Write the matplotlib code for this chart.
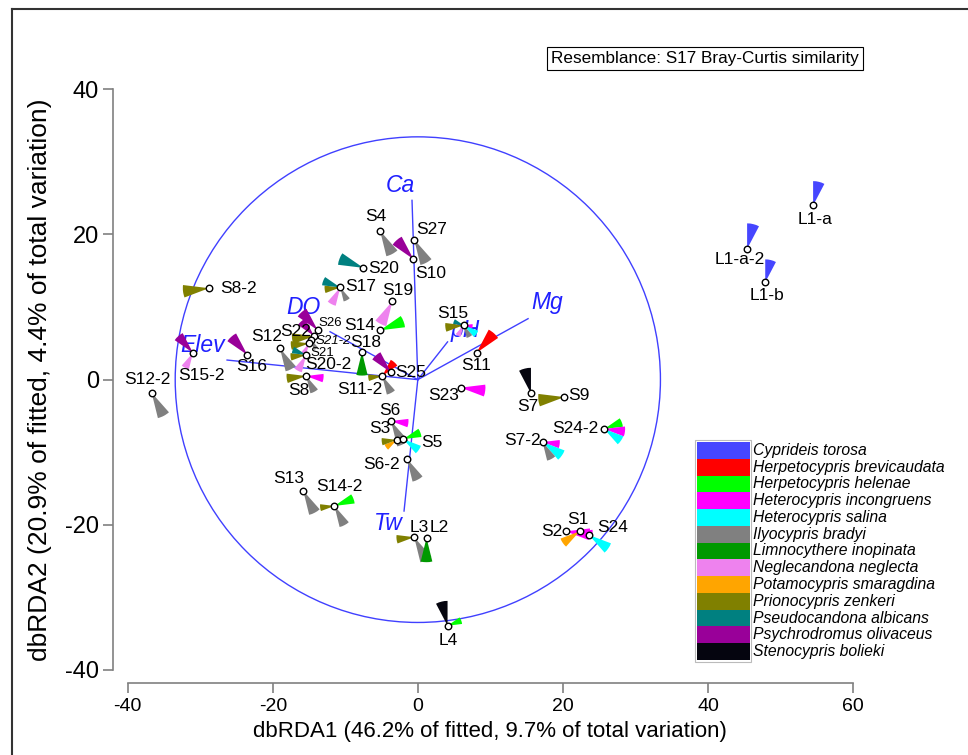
import matplotlib
matplotlib.use("Agg")
import matplotlib.pyplot as plt
from matplotlib.patches import Wedge, Circle, Rectangle
from matplotlib.lines import Line2D

plt.rcParams['font.family'] = ['Liberation Sans', 'DejaVu Sans']
plt.rcParams['axes.unicode_minus'] = False

# species (legend order = glyph sector order, clockwise from 12 o'clock)
species = ['Cyprideis torosa', 'Herpetocypris brevicaudata', 'Herpetocypris helenae',
           'Heterocypris incongruens', 'Heterocypris salina', 'Ilyocypris bradyi',
           'Limnocythere inopinata', 'Neglecandona neglecta', 'Potamocypris smaragdina',
           'Prionocypris zenkeri', 'Pseudocandona albicans', 'Psychrodromus olivaceus',
           'Stenocypris bolieki']
sp_colors = ['#4646ff', '#ff0000', '#00ff00', '#ff00ff', '#00ffff', '#808080',
             '#009900', '#ee82ee', '#ffa500', '#808000', '#008080', '#990099',
             '#05050f']

samples = ['L1-a', 'L1-a-2', 'L1-b', 'S8-2', 'S4', 'S27', 'S10', 'S20', 'S17', 'S19',
           'S14', 'S26', 'S22', 'S21-2', 'S21', 'S20-2', 'S12', 'S16', 'S15-2', 'S12-2',
           'S8', 'S18', 'S11-2', 'S25', 'S15', 'S11', 'S23', 'S7', 'S9', 'S24-2',
           'S7-2', 'S2', 'S1', 'S24', 'S6', 'S3', 'S5', 'S6-2', 'S13', 'S14-2',
           'L3', 'L2', 'L4']
db1 = [54.5, 45.4, 47.9, -28.8, -5.2, -0.5, -0.6, -7.5, -10.7, -3.5,
       -5.2, -13.8, -14.3, -14.7, -15.0, -15.4, -19.0, -23.5, -31.0, -36.7,
       -15.4, -7.7, -4.9, -3.7, 6.3, 8.1, 5.9, 15.6, 20.2, 25.7,
       17.2, 20.4, 22.3, 23.6, -3.7, -2.9, -2.0, -1.5, -15.8, -11.5,
       -0.5, 1.2, 4.1]
db2 = [24.0, 18.0, 13.4, 12.6, 20.5, 19.3, 16.6, 15.4, 12.7, 10.8,
       6.8, 6.8, 6.0, 5.5, 5.0, 3.4, 4.3, 3.4, 3.7, -1.8,
       0.5, 3.8, 0.5, 1.0, 7.5, 3.7, -1.1, -1.9, -2.4, -6.8,
       -8.6, -20.9, -20.9, -21.4, -5.7, -8.3, -8.2, -10.9, -15.3, -17.4,
       -21.7, -21.8, -33.9]

# relative glyph length per species (13 columns, same order as species)
glyph = [
    [0.93, 0, 0, 0, 0, 0, 0, 0, 0, 0, 0, 0, 0],        # L1-a
    [0.98, 0, 0, 0, 0, 0, 0, 0, 0, 0, 0, 0, 0],        # L1-a-2
    [0.88, 0, 0, 0, 0, 0, 0, 0, 0, 0, 0, 0, 0],        # L1-b
    [0, 0, 0, 0, 0, 0, 0, 0, 0, 1.0, 0, 0, 0],         # S8-2
    [0, 0, 0, 0, 0, 1.0, 0, 0, 0, 0, 0, 0, 0],         # S4
    [0, 0, 0, 0, 0, 1.0, 0, 0, 0, 0, 0, 0, 0],         # S27
    [0, 0, 0, 0, 0, 0, 0, 0, 0, 0, 0, 0.97, 0],        # S10
    [0, 0, 0, 0, 0, 0, 0, 0, 0, 0, 0.98, 0, 0],        # S20
    [0, 0, 0, 0, 0, 0.55, 0, 0.72, 0, 0.6, 0.7, 0, 0],  # S17
    [0, 0, 0, 0, 0, 0, 0, 0.98, 0, 0, 0, 0, 0],        # S19
    [0, 0, 0.96, 0, 0, 0, 0, 0, 0, 0, 0, 0, 0],        # S14
    [0, 0, 0, 0, 0, 0, 0, 0, 0, 0, 0, 0.93, 0],        # S26
    [0, 0, 0, 0, 0, 0, 0, 0, 0, 0.85, 0, 0.75, 0],     # S22
    [0, 0, 0, 0, 0, 0.4, 0, 0, 0, 0, 0, 0, 0],         # S21-2
    [0, 0, 0, 0, 0, 0, 0, 0.45, 0, 0.7, 0, 0, 0],      # S21
    [0, 0, 0, 0, 0, 0, 0, 0.68, 0, 0.6, 0.55, 0, 0],   # S20-2
    [0, 0, 0, 0, 0, 0.9, 0, 0, 0, 0, 0, 0, 0],         # S12
    [0, 0, 0, 0, 0, 0, 0, 0, 0, 0, 0, 0.93, 0],        # S16
    [0, 0, 0, 0, 0, 0, 0, 0.65, 0, 0, 0, 0.85, 0],     # S15-2
    [0, 0, 0, 0, 0, 1.0, 0, 0, 0, 0, 0, 0, 0],         # S12-2
    [0, 0, 0, 0.67, 0, 0.68, 0, 0, 0, 0.75, 0, 0, 0],  # S8
    [0, 0, 0, 0, 0, 0, 0.9, 0, 0, 0, 0, 0, 0],         # S18
    [0, 0.7, 0, 0, 0, 0.73, 0, 0, 0, 0.54, 0, 0, 0],   # S11-2
    [0, 0, 0, 0, 0, 0, 0, 0, 0, 0, 0, 0.87, 0],        # S25
    [0, 0, 0, 0.35, 0.6, 0.5, 0, 0.45, 0, 0.7, 0.4, 0, 0],  # S15
    [0, 1.0, 0, 0, 0, 0, 0, 0, 0, 0, 0, 0, 0],         # S11
    [0, 0, 0, 0.95, 0, 0, 0, 0, 0, 0, 0, 0, 0],        # S23
    [0, 0, 0, 0, 0, 0, 0, 0, 0, 0, 0, 0, 0.98],        # S7
    [0, 0, 0, 0, 0, 0, 0, 0, 0, 1.0, 0, 0, 0],         # S9
    [0, 0, 0.72, 0.8, 0.78, 0, 0, 0, 0, 0, 0, 0, 0],   # S24-2
    [0, 0, 0, 0.66, 0.9, 0.73, 0, 0, 0, 0, 0, 0, 0],   # S7-2
    [0, 0, 0, 0.93, 0, 0, 0, 0, 0, 0, 0, 0, 0],        # S2
    [0, 0, 0, 0.5, 0, 0, 0, 0, 0.78, 0, 0, 0, 0],      # S1
    [0, 0, 0, 0, 0.9, 0, 0, 0, 0, 0, 0, 0, 0],         # S24
    [0, 0, 0, 0.67, 0, 1.0, 0, 0, 0, 0, 0, 0, 0],      # S6
    [0, 0, 0, 0, 0, 0, 0, 0, 0.5, 0.58, 0, 0, 0],      # S3
    [0, 0, 0.7, 0, 0.72, 0, 0, 0, 0, 0, 0, 0, 0],      # S5
    [0, 0, 0, 0, 0, 0.9, 0, 0, 0, 0, 0, 0, 0],         # S6-2
    [0, 0, 0, 0, 0, 0.95, 0, 0, 0, 0, 0, 0, 0],        # S13
    [0, 0, 0.78, 0, 0, 0.83, 0, 0, 0, 0.55, 0, 0, 0],  # S14-2
    [0, 0, 0, 0, 0, 0.99, 0, 0, 0, 0.68, 0, 0, 0],     # L3
    [0, 0, 0, 0, 0, 0, 0.93, 0, 0, 0, 0, 0, 0],        # L2
    [0, 0, 0.56, 0, 0, 0, 0, 0, 0, 0, 0, 0, 0.95],     # L4
]

# environmental vectors
env_names = ['Ca', 'Mg', 'pH', 'DO', 'Elev', 'Tw']
env_x = [-0.8, 15.2, 4.1, -12.1, -26.3, -1.9]
env_y = [24.7, 8.4, 5.2, 6.6, 2.7, -18.1]
env_lab_x = [-2.4, 17.8, 6.5, -15.8, -29.7, -4.1]
env_lab_y = [26.8, 10.6, 6.8, 10.0, 4.7, -19.8]
circle_r = 33.45

# label offsets from point, in pixels (dx right, dy down)
label_off = {
    'L1-a': (2, 14), 'L1-a-2': (-7, 11), 'L1-b': (2, 13), 'S8-2': (30, 0),
    'S4': (-4, -14), 'S27': (17, -10), 'S10': (17, 14), 'S20': (20, 1),
    'S17': (20, -1), 'S19': (5, -11), 'S14': (-20, -5), 'S26': (13, -7),
    'S22': (-18, -5), 'S21-2': (22, 1), 'S21': (13, 10), 'S20-2': (22, 10),
    'S12': (-13, -12), 'S16': (4, 12), 'S15-2': (8, 23), 'S12-2': (-4, -13),
    'S8': (-7, 14), 'S18': (4, -10), 'S11-2': (-22, 13), 'S25': (20, 0),
    'S15': (-11, -12), 'S11': (0, 13), 'S23': (-17, 8), 'S7': (-3, 13),
    'S9': (15, -2), 'S24-2': (-29, -1), 'S7-2': (-20, -2), 'S2': (-14, 0),
    'S1': (-2, -12), 'S24': (24, -7), 'S6': (-1, -11), 'S3': (-17, -11),
    'S5': (29, 3), 'S6-2': (-25, 6), 'S13': (-15, -12), 'S14-2': (5, -19),
    'L3': (5, -10), 'L2': (13, -10), 'L4': (1, 15),
}
small_labels = {'S26': 'normal', 'S21-2': 'italic', 'S21': 'normal'}

W, H = 968, 755
fig = plt.figure(figsize=(W / 100, H / 100), dpi=100)
ax = fig.add_axes([127.7 / W, (H - 670) / H, 725.3 / W, 580.7 / H])
ax.set_xlim(-40, 60)
ax.set_ylim(-40, 40)

vec_col = '#4040ff'
ax.add_patch(Circle((0, 0), circle_r, fill=False, ec=vec_col, lw=1.0))
for i, nm in enumerate(env_names):
    ax.plot([0, env_x[i]], [0, env_y[i]], color=vec_col, lw=1.0)
    ax.text(env_lab_x[i], env_lab_y[i], nm, color='#2020ff', fontsize=16.5,
            style='italic', ha='center', va='center')

RMAX = 3.6
step = 360.0 / len(species)
for k, nm in enumerate(samples):
    for j, v in enumerate(glyph[k]):
        if v <= 0:
            continue
        t1 = 90 - (j + 1) * step
        t2 = 90 - j * step
        ax.add_patch(Wedge((db1[k], db2[k]), v * RMAX, t1, t2,
                           fc=sp_colors[j], ec='none', zorder=3))

ax.scatter(db1, db2, s=22, facecolor='white', edgecolor='black',
           linewidths=1.0, zorder=5)

for k, nm in enumerate(samples):
    dx, dy = label_off[nm]
    if nm in small_labels:
        fs, st = 9.5, small_labels[nm]
    else:
        fs, st = 12.5, 'normal'
    ax.annotate(nm, (db1[k], db2[k]), xytext=(dx, -dy), textcoords='offset pixels',
                ha='center', va='center', fontsize=fs, style=st, zorder=6)

for s in ['top', 'right']:
    ax.spines[s].set_visible(False)
ax.spines['left'].set_position(('outward', 10.6))
ax.spines['bottom'].set_position(('outward', 9.1))
ax.spines['left'].set_bounds(-40, 40)
ax.spines['bottom'].set_bounds(-40, 60)
for s in ['left', 'bottom']:
    ax.spines[s].set_color('#808080')
    ax.spines[s].set_linewidth(1.2)
ax.set_xticks([-40, -20, 0, 20, 40, 60])
ax.set_yticks([-40, -20, 0, 20, 40])
ax.tick_params(axis='both', direction='out', length=7, width=1.2, color='#808080')
ax.tick_params(axis='y', labelsize=17, pad=3)
ax.tick_params(axis='x', labelsize=14, pad=4)
ax.patch.set_alpha(0)

fig.text(490 / W, 1 - 732 / H, 'dbRDA1 (46.2% of fitted, 9.7% of total variation)',
         ha='center', va='center', fontsize=16)
fig.text(40 / W, 1 - 380 / H, 'dbRDA2 (20.9% of fitted, 4.4% of total variation)',
         ha='center', va='center', fontsize=19, rotation=90)

# resemblance box
fig.text(705 / W, 1 - 58.5 / H, 'Resemblance: S17 Bray-Curtis similarity',
         ha='center', va='center', fontsize=12.3,
         bbox=dict(boxstyle='square,pad=0.25', fc='white', ec='black', lw=0.8))

# legend
row_h = 218.0 / len(species)
fig.patches.append(Rectangle((695 / W, 1 - 662 / H), 56 / W, 222 / H,
                             transform=fig.transFigure, fill=False,
                             ec='#bbbbbb', lw=0.8))
for i, nm in enumerate(species):
    top = 442 + i * row_h
    fig.patches.append(Rectangle((697 / W, 1 - (top + row_h) / H), 53 / W, row_h / H,
                                 transform=fig.transFigure, fc=sp_colors[i], ec='none'))
    fig.text(753 / W, 1 - (top + row_h / 2) / H, nm, ha='left', va='center',
             fontsize=11.3, style='italic')

# outer frame
fig.add_artist(Line2D([12 / W, 12 / W], [0, 1 - 9 / H], transform=fig.transFigure,
                      color='#333333', lw=1.5))
fig.add_artist(Line2D([12 / W, 1], [1 - 9 / H, 1 - 9 / H], transform=fig.transFigure,
                      color='#333333', lw=1.5))

fig.savefig('out.png', dpi=100)
